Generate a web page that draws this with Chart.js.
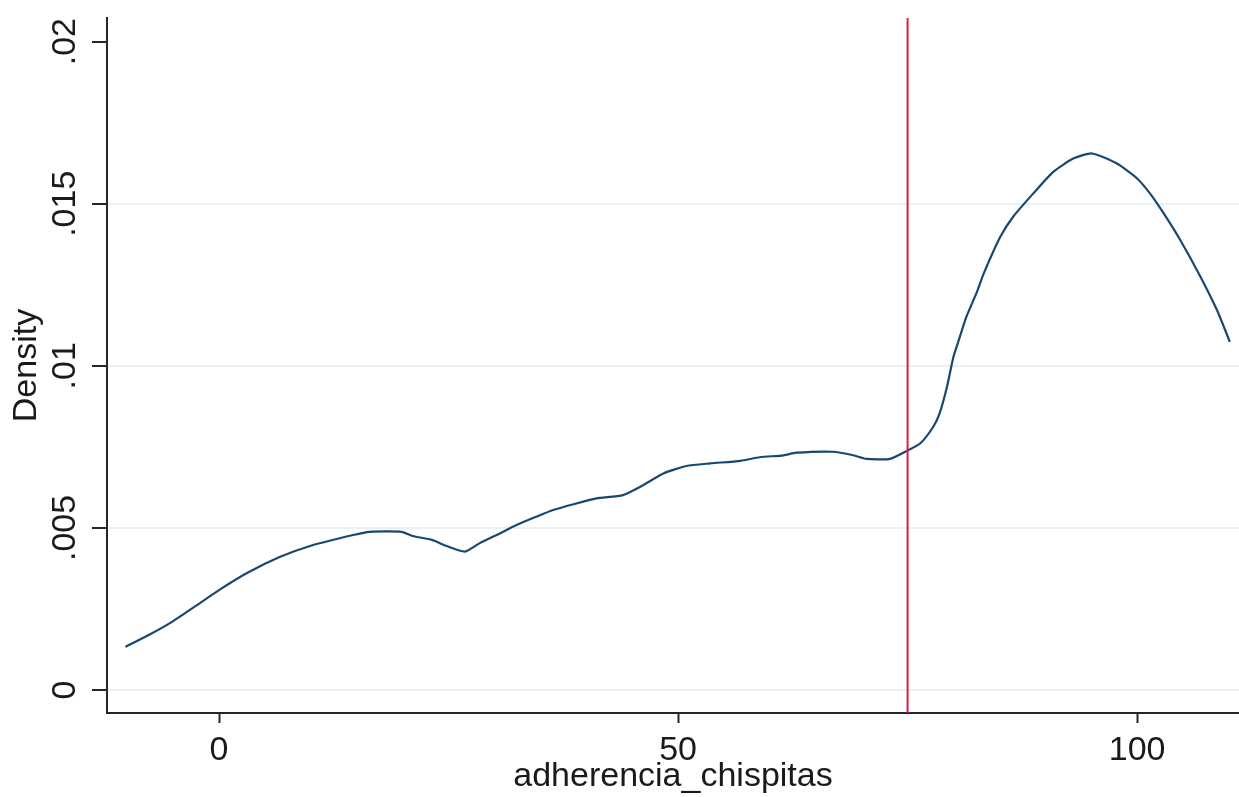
<!DOCTYPE html>
<html>
<head>
<meta charset="utf-8">
<script src="https://cdn.jsdelivr.net/npm/chart.js@4.4.1/dist/chart.umd.min.js"></script>
<style>
  html, body { margin: 0; padding: 0; background: #ffffff; }
  #wrap { width: 1239px; height: 797px; }
</style>
</head>
<body>
<div id="wrap"><canvas id="kd" width="1239" height="797"></canvas></div>
<script>
// Kernel density estimate of adherencia_chispitas
const gridX = [-10.2, -7.5, -5.3, -2.5, 0, 3, 6.6, 10, 14.6, 16.4, 19.9, 21.1, 23.2, 24.8, 26.8,
  28.4, 30.6, 32.4, 34.6, 36.4, 38.6, 41.1, 44.0, 45.9, 48.4, 50.9, 53.5, 56.8, 58.9, 61.5,
  62.9, 66.9, 69.1, 70.5, 73.1, 75.1, 76.4, 77.8, 78.5, 79.3, 80.0, 80.7, 81.4, 82.5, 83.3,
  85.1, 86.5, 88.7, 90.9, 93.1, 95.1, 97.8, 100.0, 101.4, 102.9, 104.7, 106.9, 108.7, 110.1];
const density = [0.00133, 0.00172, 0.00207, 0.0026, 0.00308, 0.0036, 0.0041, 0.00445, 0.00478,
  0.00488, 0.00488, 0.00475, 0.00463, 0.00444, 0.00427, 0.00453, 0.00483, 0.00509, 0.00535,
  0.00555, 0.00573, 0.00591, 0.00601, 0.00627, 0.00668, 0.00691, 0.00699, 0.00707, 0.00718,
  0.00724, 0.00732, 0.00735, 0.00724, 0.00713, 0.00713, 0.0074, 0.00761, 0.00812, 0.00854,
  0.00936, 0.01028, 0.0109, 0.01151, 0.01224, 0.01285, 0.01398, 0.0146, 0.01532, 0.01599,
  0.0164, 0.01655, 0.01624, 0.01578, 0.01532, 0.0147, 0.01388, 0.01275, 0.01172, 0.01074];
const cutoff = 75;
const xTicks = [0, 50, 100];
const yTicks = [0, 0.005, 0.01, 0.015, 0.02];
const yTickLabels = ['0', '.005', '.01', '.015', '.02'];
const xRange = [-12.2, 111.1];
const yRange = [-0.00071, 0.02073];

const FONT = '"Liberation Sans", Arial, sans-serif';
const TEXT = '#1a1a1a';
const AXIS = '#262626';

const curve = gridX.map((x, i) => ({ x: x, y: density[i] }));
const refLine = [{ x: cutoff, y: yRange[0] }, { x: cutoff, y: yRange[1] }];

// rotated y tick labels, reading bottom to top
const yLabelPlugin = {
  id: 'yLabels',
  afterDraw(chart) {
    const ys = chart.scales.y;
    const c = chart.ctx;
    c.save();
    c.fillStyle = TEXT;
    c.font = '34px ' + FONT;
    c.textAlign = 'center';
    c.textBaseline = 'middle';
    yTicks.forEach((v, i) => {
      const py = ys.getPixelForValue(v);
      c.save();
      c.translate(66, py);
      c.rotate(-Math.PI / 2);
      c.fillText(yTickLabels[i], 0, 0);
      c.restore();
    });
    c.restore();
  }
};

new Chart(document.getElementById('kd'), {
  type: 'line',
  data: {
    datasets: [
      {
        data: refLine, borderColor: '#d81e45', borderWidth: 2,
        pointRadius: 0, tension: 0, order: 0
      },
      {
        data: curve, borderColor: '#1a476f', borderWidth: 2.2,
        pointRadius: 0, tension: 0.2, order: 1
      }
    ]
  },
  options: {
    responsive: false,
    animation: false,
    parsing: true,
    layout: { padding: { top: 18, right: 0, bottom: 0, left: 0 } },
    plugins: { legend: { display: false }, tooltip: { enabled: false } },
    scales: {
      x: {
        type: 'linear',
        min: xRange[0], max: xRange[1],
        afterBuildTicks: s => { s.ticks = xTicks.map(v => ({ value: v })); },
        afterFit: s => { s.height = 84; },
        border: { display: true, color: AXIS, width: 2 },
        grid: { drawOnChartArea: false, drawTicks: true, tickLength: 10, tickColor: AXIS, tickWidth: 2 },
        ticks: { color: TEXT, font: { family: FONT, size: 34 }, padding: 7, maxRotation: 0 },
        title: {
          display: true, text: 'adherencia_chispitas', color: TEXT,
          font: { family: FONT, size: 34 }, padding: { top: 0, bottom: 0 }
        }
      },
      y: {
        type: 'linear',
        min: yRange[0], max: yRange[1],
        afterBuildTicks: s => { s.ticks = yTicks.map(v => ({ value: v })); },
        afterFit: s => { s.width = 107; },
        border: { display: true, color: AXIS, width: 2 },
        grid: {
          drawOnChartArea: true, drawTicks: true, tickLength: 15,
          color: c => (c.tick && c.tick.value === 0.02) ? 'rgba(0,0,0,0)' : '#eaf1f3',
          lineWidth: 2, tickColor: AXIS, tickWidth: 2
        },
        ticks: { display: false },
        title: {
          display: true, text: 'Density', color: TEXT,
          font: { family: FONT, size: 34 }, padding: { top: 6, bottom: 0 }
        }
      }
    }
  },
  plugins: [yLabelPlugin]
});
</script>
</body>
</html>
